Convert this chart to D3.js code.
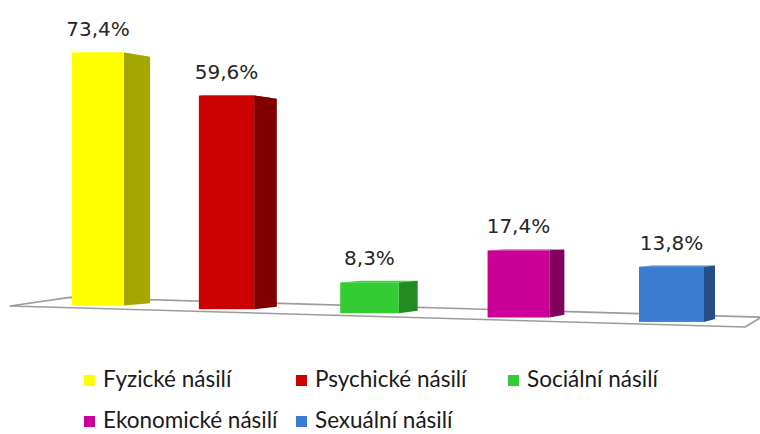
<!DOCTYPE html>
<style>
    body {
        margin: 0;
        overflow: hidden;
        background: #fff;
    }
</style>
<div id="container"></div>
<script src="https://cdn.jsdelivr.net/npm/d3@7"></script>
<script>
    // data
    const categories = ["Fyzické násilí", "Psychické násilí", "Sociální násilí", "Ekonomické násilí", "Sexuální násilí"];
    const values = [73.4, 59.6, 8.3, 17.4, 13.8];
    const frontColors = ["#ffff00", "#cc0000", "#33cc33", "#cc0099", "#3a7dd0"];
    const sideColors = ["#a6a600", "#800000", "#228b22", "#80005c", "#244f86"];

    const width = 760, height = 434;

    const svg = d3.select("#container").append("svg")
        .attr("width", width)
        .attr("height", height);

    // fake perspective: bars get a bit bigger towards the right
    const x = d3.scalePow().exponent(1.08).domain([0, 4]).range([72, 639]);
    const barW = d3.scaleLinear().domain([0, 4]).range([52, 65]);
    const grow = d3.scaleLinear().domain([0, 4]).range([1, 1.16]);
    const y = d3.scaleLinear().domain([0, 80]).range([0, 275.7]);
    // front edge of the floor
    const floorFront = d3.scaleLinear().domain([10, 745]).range([306, 327]);

    const vpBar = [1128, 215], barDepth = 0.026;
    const vpFloor = [1025, 160], floorDepth = 0.059;

    const toward = (p, vp, t) => [p[0] + t * (vp[0] - p[0]), p[1] + t * (vp[1] - p[1])];
    const line = d3.line();

    // floor
    const fl = [10, floorFront(10)], fr = [745, floorFront(745)];
    const floor = [fl, fr, toward(fr, vpFloor, floorDepth), toward(fl, vpFloor, floorDepth)];
    svg.append("path")
        .attr("d", line(floor) + "Z")
        .attr("fill", "#fff")
        .attr("stroke", "#9c9c9c")
        .attr("stroke-width", 1.6)
        .attr("stroke-linejoin", "round");

    const fmt = d3.formatLocale({decimal: ",", thousands: " ", grouping: [3], currency: ["", " Kč"]}).format(".1f");

    const bars = categories.map((c, i) => {
        const xl = x(i), w = barW(i), xr = xl + w, cx = xl + w / 2;
        const yb = floorFront(cx) - 3;
        const yt = yb - y(values[i]) * grow(i);
        return {i, xl, xr, cx, yb, yt};
    });

    const g = svg.append("g").selectAll("g").data(bars).join("g");

    // top face
    g.append("path")
        .attr("d", d => line([[d.xl, d.yt], [d.xr, d.yt], toward([d.xr, d.yt], vpBar, barDepth), toward([d.xl, d.yt], vpBar, barDepth)]) + "Z")
        .attr("fill", d => d3.color(frontColors[d.i]).brighter(0.15));

    // side face
    g.append("path")
        .attr("d", d => line([[d.xr, d.yt], toward([d.xr, d.yt], vpBar, barDepth), toward([d.xr, d.yb], vpBar, barDepth), [d.xr, d.yb]]) + "Z")
        .attr("fill", d => sideColors[d.i]);

    // front face
    g.append("rect")
        .attr("x", d => d.xl)
        .attr("y", d => d.yt)
        .attr("width", d => d.xr - d.xl)
        .attr("height", d => d.yb - d.yt)
        .attr("fill", d => frontColors[d.i]);

    // value labels
    svg.append("g").selectAll("text").data(bars).join("text")
        .attr("x", d => d.cx)
        .attr("y", d => d.yt - 17)
        .attr("text-anchor", "middle")
        .attr("font-family", "DejaVu Sans, Verdana, sans-serif")
        .attr("font-size", 20)
        .attr("fill", "#262626")
        .text(d => fmt(values[d.i]) + "%");

    // legend, 3 per row
    const legend = svg.append("g").selectAll("g").data(categories).join("g")
        .attr("transform", (d, i) => `translate(${84 + (i % 3) * 212},${387 + Math.floor(i / 3) * 41})`);

    legend.append("rect")
        .attr("x", 0)
        .attr("y", -12)
        .attr("width", 11)
        .attr("height", 11)
        .attr("fill", (d, i) => frontColors[i]);

    legend.append("text")
        .attr("x", 19)
        .attr("y", 0)
        .attr("font-family", "Lato, sans-serif")
        .attr("font-size", 22.5)
        .attr("fill", "#1a1a1a")
        .text(d => d);
</script>
